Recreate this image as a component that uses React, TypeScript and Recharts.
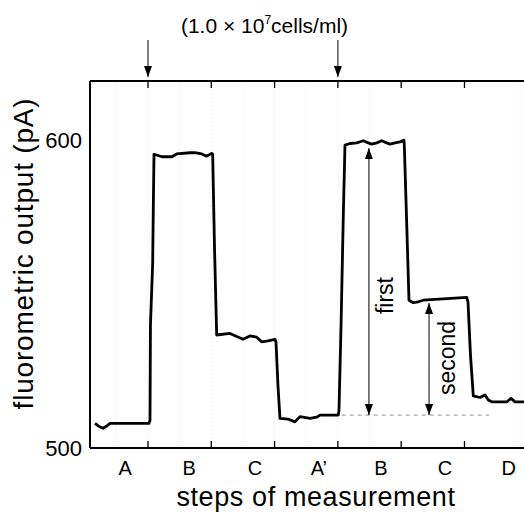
import { LineChart, Line, XAxis, YAxis, CartesianGrid, ReferenceLine } from "recharts";

// steps of measurement (x axis: one unit per step, boundaries at integers)
const stepLabels = ["A", "B", "C", "A’", "B", "C", "D"];
const labelPos = [0.64, 1.65, 2.69, 3.7, 4.68, 5.69, 6.7];
const stepBounds = [1, 2, 3, 4, 5, 6];
const yTicks = [500, 600];
const injectionSteps = [1, 4];

const time = [
  0.163, 0.226, 0.289, 0.352, 0.4, 1.016, 1.032, 1.039, 1.074, 1.084, 1.095,
  1.221, 1.379, 1.453, 1.664, 1.742, 1.848, 1.927, 2.006, 2.022, 2.051, 2.085,
  2.295, 2.501, 2.611, 2.717, 2.796, 2.896, 3.006, 3.022, 3.054, 3.085,
  3.212, 3.322, 3.401, 3.559, 3.665, 3.717, 4.006, 4.017, 4.05, 4.085, 4.112,
  4.191, 4.297, 4.401, 4.48, 4.534, 4.613, 4.692, 4.771, 4.823, 4.902, 4.981,
  5.044, 5.049, 5.084, 5.123, 5.191, 5.27, 5.349, 6.035, 6.055, 6.095, 6.139,
  6.245, 6.324, 6.376, 6.43, 6.667, 6.735, 6.798, 6.94,
];
const output = [
  508.0, 507.0, 506.4, 507.2, 508.0, 508.0, 509.0, 540, 560, 578, 595.4,
  594.6, 594.6, 595.5, 595.9, 595.9, 595.5, 594.8, 595.7, 595.4, 565, 536.7,
  537.2, 535.3, 536.4, 536.0, 534.5, 534.8, 535.3, 534.5, 520, 509.6,
  509.4, 508.5, 510.2, 509.6, 510.0, 510.7, 510.7, 512, 540, 575, 598.4,
  598.9, 599.1, 599.8, 599.1, 598.7, 599.1, 599.8, 599.1, 598.7, 599.1, 599.4,
  600.0, 598.5, 575, 548.0, 547.2, 547.5, 548.0, 548.9, 547.5, 530, 516.9,
  516.4, 517.2, 515.6, 515.0, 515.0, 516.1, 515.0, 515.0,
];

// annotations
const baseline = 510.7;
const baselineSpan = [4.06, 6.39];
const firstX = 4.49;
const firstTop = 597.4;
const secondX = 5.44;
const secondTop = 547.1;
const injectArrow = [632.5, 620.5];

const xDomain = [0.084, 6.94];
const yDomain = [500, 619.2];

const data = time.map((t, i) => ({ t, v: output[i] }));
const axisTicks = [...labelPos, ...stepBounds].sort((a, b) => a - b);
const gridX: number[] = [];
for (let k = 1; k / 6 < xDomain[1]; k++) gridX.push(k / 6);

const font = "'Liberation Sans', Arial, Helvetica, sans-serif";
const chartH = 512;
const marginTop = 81;
const xAxisH = 64;
const plotH = chartH - marginTop - xAxisH;
const tickGap = 13;
const markLen = 7;

// bottom axis tick: a letter for a step, or inward marks (bottom + top frame) at a step boundary
function StepTick(props: any) {
  const { x, y, payload } = props;
  const i = labelPos.indexOf(payload.value);
  if (i >= 0) {
    return (
      <text x={x} y={y} dy="0.71em" textAnchor="middle" fontSize={20} fontFamily={font} fill="#000">
        {stepLabels[i]}
      </text>
    );
  }
  const axisY = y - tickGap;
  return (
    <g>
      <line x1={x} x2={x} y1={axisY} y2={axisY - markLen} stroke="#000" strokeWidth={1.3} />
      <line x1={x} x2={x} y1={axisY - plotH} y2={axisY - plotH + markLen} stroke="#000" strokeWidth={1.3} />
    </g>
  );
}

export default function App() {
  return (
    <div style={{ position: "absolute", left: 0, top: 0, width: 524, height: 512, overflow: "hidden", background: "#fff" }}>
      <LineChart width={524} height={chartH} data={data} margin={{ top: marginTop, right: 0, bottom: 0, left: 0 }} style={{ fontFamily: font }}>
        <defs>
          <marker id="head" viewBox="0 0 10 10" refX="10" refY="5" markerUnits="userSpaceOnUse" markerWidth="11" markerHeight="8" orient="auto-start-reverse" preserveAspectRatio="none">
            <path d="M0,0 L10,5 L0,10 z" fill="#000" />
          </marker>
        </defs>
        <XAxis xAxisId="grid" type="number" dataKey="t" domain={xDomain} allowDataOverflow ticks={gridX} hide height={0} />
        <CartesianGrid xAxisId="grid" horizontal={false} stroke="#e4e4e4" strokeDasharray="1 3" />
        <XAxis
          xAxisId="main"
          type="number"
          dataKey="t"
          domain={xDomain}
          allowDataOverflow
          ticks={axisTicks}
          interval={0}
          tickLine={false}
          axisLine={{ stroke: "#000", strokeWidth: 2 }}
          tickSize={0}
          tickMargin={tickGap}
          tick={<StepTick />}
          height={xAxisH}
          label={{
            content: ({ viewBox }: any) => (
              <text x={viewBox.x + 226} y={viewBox.y + 58} textAnchor="middle" fontSize={27} fontFamily={font} fill="#000" letterSpacing={0.6}>
                steps of measurement
              </text>
            ),
          }}
        />
        <XAxis
          xAxisId="top"
          orientation="top"
          type="number"
          dataKey="t"
          domain={xDomain}
          allowDataOverflow
          mirror
          tick={false}
          tickLine={false}
          height={1}
          axisLine={{ stroke: "#000", strokeWidth: 2 }}
          label={{
            content: () => (
              <text x={264.5} y={33} textAnchor="middle" fontSize={21} fontFamily={font} fill="#000">
                (1.0 × 10<tspan fontSize={12} dy={-9}>7</tspan><tspan dy={9}>cells/ml)</tspan>
              </text>
            ),
          }}
        />
        <YAxis
          type="number"
          domain={yDomain}
          allowDataOverflow
          ticks={yTicks}
          interval={0}
          width={90}
          tickLine={false}
          tickSize={0}
          tickMargin={8}
          axisLine={{ stroke: "#000", strokeWidth: 2 }}
          tick={{ fontSize: 22, fill: "#000", fontFamily: font }}
          label={{
            content: ({ viewBox }: any) => {
              const x = viewBox.x + 33;
              const y = viewBox.y + viewBox.height / 2 - 11;
              return (
                <text x={x} y={y} transform={`rotate(-90, ${x}, ${y})`} textAnchor="middle" fontSize={28} fontFamily={font} fill="#000" letterSpacing={0.8}>
                  fluorometric output (pA)
                </text>
              );
            },
          }}
        />
        <ReferenceLine
          xAxisId="main"
          segment={[{ x: baselineSpan[0], y: baseline }, { x: baselineSpan[1], y: baseline }]}
          stroke="#8a8a8a"
          strokeWidth={1}
          strokeDasharray="4 4"
        />
        <ReferenceLine
          xAxisId="main"
          segment={[{ x: firstX, y: firstTop }, { x: firstX, y: baseline }]}
          stroke="#000"
          strokeWidth={1}
          markerStart="url(#head)"
          markerEnd="url(#head)"
          label={{
            content: ({ viewBox }: any) => {
              const x = viewBox.x + 24;
              const y = viewBox.y + viewBox.height / 2 + 14;
              return (
                <text x={x} y={y} transform={`rotate(-90, ${x}, ${y})`} textAnchor="middle" fontSize={23} fontFamily={font} fill="#000">
                  first
                </text>
              );
            },
          }}
        />
        <ReferenceLine
          xAxisId="main"
          segment={[{ x: secondX, y: secondTop }, { x: secondX, y: baseline }]}
          stroke="#000"
          strokeWidth={1}
          markerStart="url(#head)"
          markerEnd="url(#head)"
          label={{
            content: ({ viewBox }: any) => {
              const x = viewBox.x + 26;
              const y = viewBox.y + viewBox.height / 2 - 1;
              return (
                <text x={x} y={y} transform={`rotate(-90, ${x}, ${y})`} textAnchor="middle" fontSize={23} fontFamily={font} fill="#000">
                  second
                </text>
              );
            },
          }}
        />
        {injectionSteps.map((s) => (
          <ReferenceLine
            key={s}
            xAxisId="main"
            ifOverflow="visible"
            segment={[{ x: s, y: injectArrow[0] }, { x: s, y: injectArrow[1] }]}
            stroke="#000"
            strokeWidth={1}
            markerEnd="url(#head)"
          />
        ))}
        <Line
          xAxisId="main"
          type="linear"
          dataKey="v"
          stroke="#000"
          strokeWidth={2.8}
          strokeLinejoin="round"
          dot={false}
          activeDot={false}
          isAnimationActive={false}
        />
      </LineChart>
    </div>
  );
}
